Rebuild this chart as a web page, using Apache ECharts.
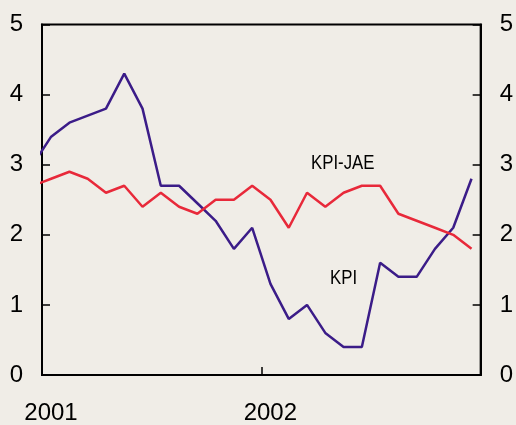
<!DOCTYPE html>
<html>
	<head>
		<meta charset="utf-8" />
		<title>KPI</title>
		<style type="text/css">
			body,
			html,
			#chart {
				width: 100%;
				height: 100%;
				overflow: hidden;
				margin: 0;
				background: #f0ede7;
			}
		</style>
	</head>
	<body>
		<div id="chart"></div>
		<script src="https://cdn.jsdelivr.net/npm/echarts@6/dist/echarts.min.js"></script>
		<script>
			// months, Dec 2000 .. Dec 2002 (the first one is cut off by the axis)
			var months = [
				'2000-12',
				'2001-01', '2001-02', '2001-03', '2001-04', '2001-05', '2001-06',
				'2001-07', '2001-08', '2001-09', '2001-10', '2001-11', '2001-12',
				'2002-01', '2002-02', '2002-03', '2002-04', '2002-05', '2002-06',
				'2002-07', '2002-08', '2002-09', '2002-10', '2002-11', '2002-12'
			];
			var kpi = [3.0, 3.4, 3.6, 3.7, 3.8, 4.3, 3.8, 2.7, 2.7, 2.45, 2.2, 1.8, 2.1,
				1.3, 0.8, 1.0, 0.6, 0.4, 0.4, 1.6, 1.4, 1.4, 1.8, 2.1, 2.8];
			var kpiJae = [2.7, 2.8, 2.9, 2.8, 2.6, 2.7, 2.4, 2.6, 2.4, 2.3, 2.5, 2.5, 2.7,
				2.5, 2.1, 2.6, 2.4, 2.6, 2.7, 2.7, 2.3, 2.2, 2.1, 2.0, 1.8];
			var yearLabels = { 0: '2001', 12: '2002' };

			// month position on the axis: Jan 2001 = 0..1, points sit mid month
			function monthPos(m) {
				var p = m.split('-');
				return (Number(p[0]) - 2001) * 12 + Number(p[1]) - 1 + 0.5;
			}
			function pairs(values) {
				return months.map(function (m, i) {
					return [monthPos(m), values[i]];
				});
			}

			var chart = echarts.init(document.getElementById('chart'));
			var black = '#000';
			var font = 'Liberation Sans, Arial, sans-serif';
			var yAxisBase = {
				type: 'value',
				min: 0,
				max: 5,
				interval: 1,
				axisLine: { show: true, lineStyle: { color: black, width: 2 } },
				axisTick: { show: true, inside: true, length: 8, lineStyle: { color: black, width: 1.5 } },
				splitLine: { show: false },
				axisLabel: {
					color: black,
					fontFamily: font,
					fontSize: 24,
					margin: 19
				}
			};

			var option = {
				backgroundColor: '#f0ede7',
				animation: false,
				grid: {
					left: 42,
					right: 33,
					top: 24.5,
					bottom: 47,
					show: true,
					borderColor: black,
					borderWidth: 2,
					backgroundColor: 'transparent'
				},
				xAxis: {
					type: 'value',
					min: 0,
					max: 24,
					interval: 12,
					axisLine: { show: true, lineStyle: { color: black, width: 2 } },
					axisTick: { show: true, inside: true, length: 8, lineStyle: { color: black, width: 1.5 } },
					splitLine: { show: false },
					axisLabel: {
						color: black,
						fontFamily: font,
						fontSize: 24,
						margin: 26,
						align: 'center',
						padding: [0, 0, 0, 18],
						formatter: function (v) {
							return yearLabels[v] || '';
						}
					}
				},
				yAxis: [
					Object.assign({}, yAxisBase, { position: 'left' }),
					Object.assign({}, yAxisBase, { position: 'right' })
				],
				series: [
					{
						name: 'KPI',
						type: 'line',
						data: pairs(kpi),
						symbol: 'none',
						clip: true,
						lineStyle: { color: '#3b1c88', width: 2.5 }
					},
					{
						name: 'KPI-JAE',
						type: 'line',
						data: pairs(kpiJae),
						symbol: 'none',
						clip: true,
						lineStyle: { color: '#e8293a', width: 2.5 }
					}
				],
				// series names written next to the lines, slightly condensed
				graphic: [
					{
						type: 'text',
						left: 311,
						top: 153,
						scaleX: 0.8,
						style: {
							text: 'KPI-JAE',
							fill: black,
							font: '21px "Liberation Sans", Arial, sans-serif'
						}
					},
					{
						type: 'text',
						left: 330,
						top: 268,
						scaleX: 0.8,
						style: {
							text: 'KPI',
							fill: black,
							font: '21px "Liberation Sans", Arial, sans-serif'
						}
					}
				]
			};
			chart.setOption(option);
		</script>
	</body>
</html>
